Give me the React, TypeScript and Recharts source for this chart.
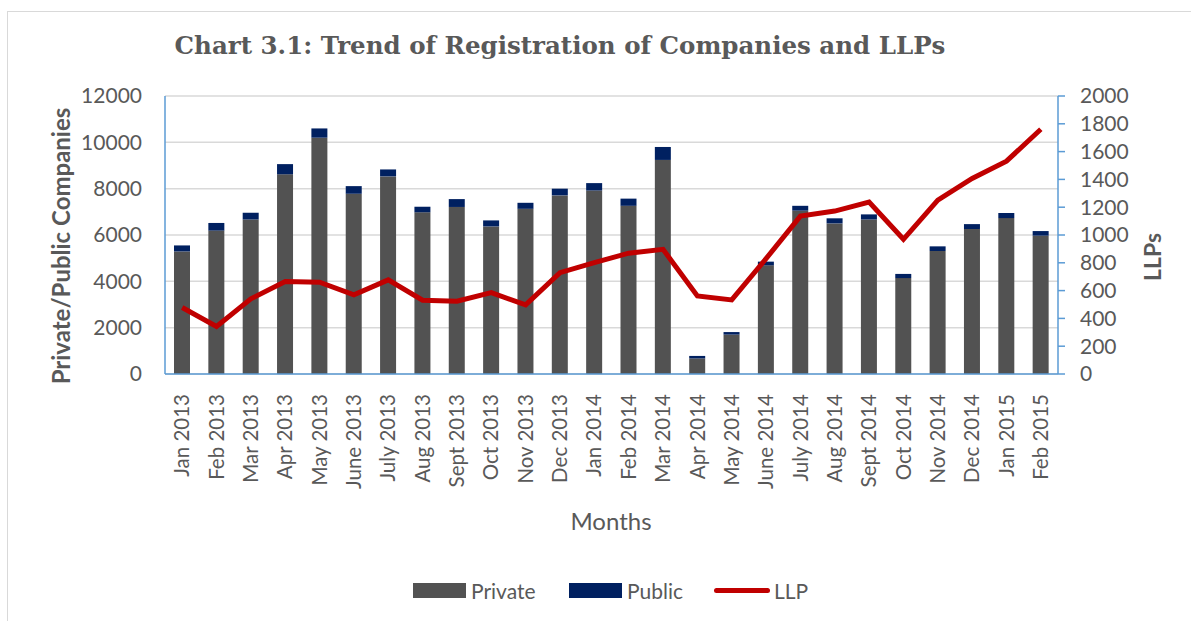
import React from 'react'
import {
  ComposedChart, Bar, Line, XAxis, YAxis, CartesianGrid,
} from 'recharts'

const months = [
  'Jan 2013', 'Feb 2013', 'Mar 2013', 'Apr 2013', 'May 2013', 'June 2013',
  'July 2013', 'Aug 2013', 'Sept 2013', 'Oct 2013', 'Nov 2013', 'Dec 2013',
  'Jan 2014', 'Feb 2014', 'Mar 2014', 'Apr 2014', 'May 2014', 'June 2014',
  'July 2014', 'Aug 2014', 'Sept 2014', 'Oct 2014', 'Nov 2014', 'Dec 2014',
  'Jan 2015', 'Feb 2015',
]
const privateCos = [
  5290, 6190, 6670, 8620, 10200, 7780, 8530, 6980, 7210, 6370, 7130, 7710,
  7920, 7260, 9240, 670, 1700, 4690, 7050, 6500, 6670, 4140, 5310, 6260, 6730, 5970,
]
const publicCos = [
  260, 330, 290, 440, 400, 330, 300, 240, 340, 260, 260, 290,
  320, 310, 560, 110, 110, 160, 210, 220, 220, 180, 200, 210, 220, 200,
]
const llps = [
  478, 342, 541, 665, 660, 569, 677, 531, 524, 586, 497, 729,
  801, 869, 897, 562, 533, 830, 1136, 1172, 1237, 969, 1251, 1407, 1531, 1761,
]
const leftTicks = [0, 2000, 4000, 6000, 8000, 10000, 12000]
const rightTicks = [0, 200, 400, 600, 800, 1000, 1200, 1400, 1600, 1800, 2000]

const data = months.map((m, i) => ({
  month: m,
  Private: privateCos[i],
  Public: publicCos[i],
  LLP: llps[i],
}))

const TEXT = '#595959'
const AXIS = '#5B9BD5'
const FONT = 'Lato, "Liberation Sans", sans-serif'

// month labels read bottom-to-top, starting just under the axis
const MonthTick = ({ x, y, payload }: any) => {
  const ty = y + 12
  return (
    <text
      x={x}
      y={ty}
      transform={`rotate(-90, ${x}, ${ty})`}
      textAnchor="end"
      dy="0.35em"
      fill={TEXT}
      fontSize={20.5}
      fontFamily={FONT}
    >
      {payload.value}
    </text>
  )
}

export default function App() {
  return (
    <div style={{ position: 'absolute', left: 0, top: 0, width: 1191, height: 621, background: '#fff', overflow: 'hidden' }}>
      <div style={{ position: 'absolute', left: 7, top: 11, width: 1300, height: 800, border: '1px solid #D9D9D9' }} />
      <div
        style={{
          position: 'absolute', left: 0, width: 1120, top: 31, textAlign: 'center', whiteSpace: 'nowrap',
          fontFamily: '"DejaVu Serif", serif', fontWeight: 'bold', fontSize: 24.5, color: TEXT,
        }}
      >
        Chart 3.1: Trend of Registration of Companies and LLPs
      </div>
      <ComposedChart
        width={1191}
        height={621}
        data={data}
        margin={{ top: 96, right: 73, bottom: 97, left: 105 }}
        barSize={16}
        style={{ position: 'absolute', left: 0, top: 0 }}
      >
        <CartesianGrid yAxisId="left" vertical={false} stroke="#D9D9D9" strokeWidth={1.5} />
        <XAxis
          dataKey="month"
          interval={0}
          height={150}
          tick={<MonthTick />}
          tickLine={false}
          axisLine={{ stroke: AXIS, strokeWidth: 1.5 }}
        />
        <YAxis
          yAxisId="left"
          domain={[0, 12000]}
          ticks={leftTicks}
          interval={0}
          width={60}
          tickLine={false}
          tickMargin={17}
          axisLine={{ stroke: AXIS, strokeWidth: 1.5 }}
          tick={{ fill: TEXT, fontSize: 21, fontFamily: FONT }}
        />
        <YAxis
          yAxisId="right"
          orientation="right"
          domain={[0, 2000]}
          ticks={rightTicks}
          interval={0}
          width={60}
          tickSize={7}
          tickMargin={15}
          tickLine={{ stroke: AXIS, strokeWidth: 1.5 }}
          axisLine={{ stroke: AXIS, strokeWidth: 1.5 }}
          tick={{ fill: TEXT, fontSize: 21, fontFamily: FONT, textAnchor: 'start' }}
        />
        <Bar yAxisId="left" dataKey="Private" stackId="a" fill="#525252" isAnimationActive={false} />
        <Bar yAxisId="left" dataKey="Public" stackId="a" fill="#002060" isAnimationActive={false} />
        <Line
          yAxisId="right"
          dataKey="LLP"
          type="linear"
          stroke="#C00000"
          strokeWidth={5}
          dot={false}
          isAnimationActive={false}
        />
      </ComposedChart>
      <div
        style={{
          position: 'absolute', left: 60, top: 246, transform: 'translate(-50%, -50%) rotate(-90deg)',
          whiteSpace: 'nowrap', fontFamily: FONT, fontWeight: 'bold', fontSize: 24, color: TEXT,
        }}
      >
        Private/Public Companies
      </div>
      <div
        style={{
          position: 'absolute', left: 1152, top: 257, transform: 'translate(-50%, -50%) rotate(-90deg)',
          whiteSpace: 'nowrap', fontFamily: FONT, fontWeight: 'bold', fontSize: 23, color: TEXT,
        }}
      >
        LLPs
      </div>
      <div
        style={{
          position: 'absolute', left: 611, top: 520, transform: 'translate(-50%, -50%)',
          fontFamily: FONT, fontSize: 24, color: TEXT,
        }}
      >
        Months
      </div>
      <div style={{ position: 'absolute', left: 413, top: 578, fontFamily: FONT, fontSize: 21, color: TEXT }}>
        <div style={{ position: 'absolute', left: 0, top: 5, width: 53, height: 15, background: '#525252' }} />
        <div style={{ position: 'absolute', left: 58, top: 0, whiteSpace: 'nowrap' }}>Private</div>
        <div style={{ position: 'absolute', left: 156, top: 5, width: 53, height: 15, background: '#002060' }} />
        <div style={{ position: 'absolute', left: 214, top: 0, whiteSpace: 'nowrap' }}>Public</div>
        <div style={{ position: 'absolute', left: 301, top: 10, width: 56, height: 5, borderRadius: 3, background: '#C00000' }} />
        <div style={{ position: 'absolute', left: 361, top: 0, whiteSpace: 'nowrap' }}>LLP</div>
      </div>
    </div>
  )
}
